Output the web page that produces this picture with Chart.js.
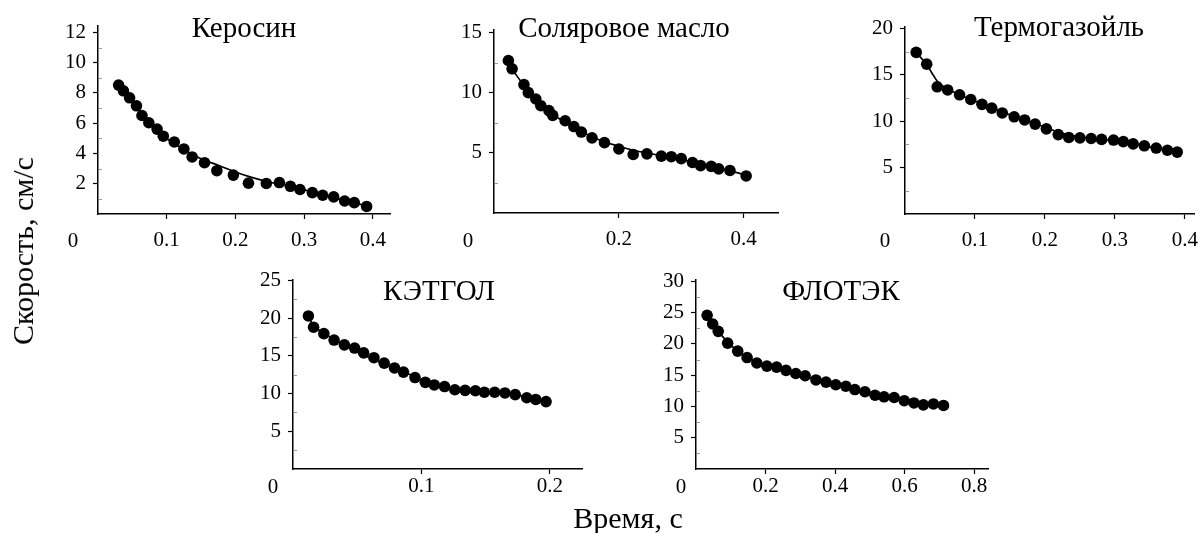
<!DOCTYPE html>
<html><head><meta charset="utf-8">
<script src="https://cdn.jsdelivr.net/npm/chart.js@4.4.1/dist/chart.umd.min.js"></script>
<style>
html,body{margin:0;padding:0;background:#fff;width:1204px;height:533px;overflow:hidden;position:relative;font-family:"Liberation Serif","DejaVu Serif",serif;color:#000;}
canvas{position:absolute;}
.lbl{position:absolute;transform:translate(-50%,-50%);white-space:nowrap;line-height:1;}
.t{font-size:29px;}
.a{font-size:30px;}
.z{font-size:21px;}
.yt{font-size:30px;transform:translate(-50%,-50%) rotate(-90deg);}
</style></head>
<body>
<canvas id="c1"></canvas><canvas id="c2"></canvas><canvas id="c3"></canvas><canvas id="c4"></canvas><canvas id="c5"></canvas>
<div class="lbl t" style="left:244px;top:27px">Керосин</div>
<div class="lbl t" style="left:624px;top:27px">Соляровое масло</div>
<div class="lbl t" style="left:1059px;top:26px">Термогазойль</div>
<div class="lbl t" style="left:439px;top:290px">КЭТГОЛ</div>
<div class="lbl t" style="left:841px;top:290px">ФЛОТЭК</div>
<div class="lbl z" style="left:73px;top:240px">0</div>
<div class="lbl z" style="left:468px;top:240px">0</div>
<div class="lbl z" style="left:885px;top:240px">0</div>
<div class="lbl z" style="left:273px;top:486px">0</div>
<div class="lbl z" style="left:681px;top:486px">0</div>
<div class="lbl yt" style="left:23px;top:251px">Скорость, см/с</div>
<div class="lbl a" style="left:628px;top:518px">Время, с</div>
<script>
// Керосин
const kerX = [0.030,0.037,0.046,0.056,0.064,0.074,0.086,0.095,0.111,0.125,0.137,0.155,0.173,0.197,0.219,0.245,0.264,0.280,0.294,0.312,0.327,0.343,0.359,0.373,0.391];
const kerY = [8.52,8.14,7.68,7.15,6.51,6.03,5.61,5.14,4.76,4.30,3.77,3.39,2.86,2.57,2.04,2.02,2.08,1.83,1.62,1.41,1.24,1.13,0.86,0.75,0.50];
const kerFitX = [0.03,0.05,0.075,0.1,0.125,0.15,0.175,0.2,0.225,0.25,0.275,0.3,0.325,0.35,0.375,0.39];
const kerFitY = [8.5,7.45,6.0,5.0,4.25,3.65,3.22,2.78,2.40,2.1,1.9,1.6,1.3,1.0,0.75,0.5];
// Соляровое масло
const solX = [0.023,0.029,0.048,0.055,0.067,0.075,0.088,0.094,0.114,0.128,0.140,0.157,0.177,0.200,0.223,0.245,0.268,0.284,0.300,0.318,0.331,0.348,0.360,0.378,0.404];
const solY = [12.68,11.99,10.68,10.01,9.48,8.92,8.52,8.12,7.67,7.19,6.73,6.25,5.85,5.32,4.87,4.92,4.73,4.68,4.52,4.20,3.94,3.88,3.67,3.54,3.08];
const solFitX = [0.023,0.03,0.05,0.075,0.1,0.125,0.15,0.175,0.2,0.225,0.25,0.275,0.3,0.325,0.35,0.375,0.4];
const solFitY = [12.7,11.9,10.5,9.1,8.0,7.2,6.5,5.95,5.55,5.2,4.95,4.7,4.45,4.15,3.85,3.55,3.2];
// Термогазойль
const terX = [0.016,0.031,0.046,0.061,0.078,0.094,0.110,0.124,0.139,0.156,0.171,0.186,0.202,0.219,0.234,0.250,0.266,0.281,0.298,0.312,0.326,0.342,0.359,0.375,0.389];
const terY = [17.42,16.15,13.71,13.37,12.85,12.34,11.82,11.41,10.89,10.48,10.14,9.69,9.18,8.56,8.25,8.21,8.14,8.04,7.97,7.80,7.56,7.35,7.11,6.87,6.67];
const terFitX = [0.016,0.031,0.04,0.05,0.075,0.1,0.125,0.15,0.175,0.2,0.225,0.25,0.275,0.3,0.325,0.35,0.375,0.389];
const terFitY = [17.4,16.1,15.0,14.0,12.95,12.15,11.4,10.7,10.05,9.35,8.7,8.3,8.05,7.9,7.6,7.2,6.9,6.67];
// КЭТГОЛ
const ketX = [0.012,0.016,0.024,0.032,0.040,0.048,0.055,0.063,0.071,0.079,0.086,0.095,0.103,0.110,0.118,0.126,0.134,0.142,0.149,0.157,0.165,0.173,0.182,0.189,0.197];
const ketY = [20.28,18.79,17.94,17.09,16.45,16.03,15.39,14.75,14.03,13.39,12.84,12.12,11.48,11.14,10.93,10.50,10.42,10.37,10.17,10.17,10.08,9.86,9.44,9.22,8.93];
const ketFitX = [0.012,0.016,0.025,0.04,0.05,0.06,0.07,0.08,0.09,0.1,0.11,0.12,0.13,0.15,0.17,0.185,0.197];
const ketFitY = [20.3,19.0,17.9,16.4,15.5,14.7,14.0,13.3,12.6,11.8,11.2,10.8,10.5,10.2,9.95,9.4,8.9];
// ФЛОТЭК
const floX = [0.032,0.048,0.064,0.091,0.120,0.147,0.175,0.204,0.232,0.259,0.287,0.314,0.345,0.374,0.402,0.431,0.457,0.486,0.515,0.541,0.570,0.599,0.627,0.654,0.683,0.712];
const floY = [24.58,23.20,22.02,20.13,18.85,17.83,16.96,16.45,16.30,15.78,15.28,14.92,14.25,13.90,13.48,13.24,12.71,12.36,11.80,11.55,11.44,10.93,10.57,10.26,10.41,10.17];
const floFitX = [0.032,0.05,0.075,0.1,0.125,0.15,0.2,0.25,0.3,0.35,0.4,0.45,0.5,0.55,0.6,0.65,0.712];
const floFitY = [24.6,23.0,21.3,19.8,18.7,17.8,16.6,15.9,15.1,14.2,13.5,12.9,12.1,11.5,10.9,10.4,10.15];

// axis settings (ranges & tick steps)
const xMax = [0.425, 0.455, 0.413, 0.225, 0.84];
const yMax = [12.45, 15.25, 20.2, 25.1, 30.3];
const xStep = [0.1, 0.2, 0.1, 0.1, 0.2];
const yStep = [2, 5, 5, 5, 5];

function pts(xs, ys){ return xs.map((x,i)=>({x:x, y:ys[i]})); }

const FONT = {family:"'Liberation Serif','Times New Roman',serif", size:21};
const YW = 60, XH = 40, PT = 12, PR = 18;

function fmt(v){ return Math.abs(v) < 1e-9 ? '' : String(Number(v.toFixed(2))); }

// faint minor ticks on the inner side of the y axis, halfway between labelled ticks
const minorTicks = {
  id: 'minorTicks',
  afterDraw(chart, args, opts){
    const y = chart.scales.y, ctx = chart.ctx, x0 = chart.chartArea.left;
    const step = opts.step;
    ctx.save();
    ctx.strokeStyle = '#9a9a9a'; ctx.lineWidth = 1;
    for (let v = step/2; v < y.max; v += step){
      const py = Math.round(y.getPixelForValue(v)) + 0.5;
      ctx.beginPath(); ctx.moveTo(x0 + 1, py); ctx.lineTo(x0 + 4, py); ctx.stroke();
    }
    ctx.restore();
  }
};

function makePanel(id, idx, xs, ys, fx, fy, geo){
  const cv = document.getElementById(id);
  const w = YW + (geo.right - geo.left) + PR;
  const h = PT + (geo.bottom - geo.top) + XH;
  cv.width = w; cv.height = h;
  cv.style.width = w + 'px'; cv.style.height = h + 'px';
  cv.style.left = (geo.left - YW) + 'px';
  cv.style.top = (geo.top - PT) + 'px';
  const tickCol = c => (Math.abs(c.tick && c.tick.value) < 1e-9 ? 'rgba(0,0,0,0)' : '#000');
  new Chart(cv, {
    type: 'scatter',
    plugins: [minorTicks],
    data: {
      datasets: [
        {data: pts(fx, fy), showLine: true, pointRadius: 0, borderColor: '#000', borderWidth: 1.7, tension: 0.4, fill: false, order: 2},
        {data: pts(xs, ys), showLine: false, pointRadius: 5.8, pointBackgroundColor: '#000', pointBorderColor: '#000', pointBorderWidth: 0, order: 1}
      ]
    },
    options: {
      responsive: false, animation: false, devicePixelRatio: 1,
      layout: {padding: {top: PT, right: PR, left: 0, bottom: 0}},
      plugins: {legend: {display: false}, tooltip: {enabled: false}, minorTicks: {step: yStep[idx]}},
      scales: {
        x: {
          type: 'linear', min: 0, max: xMax[idx],
          ticks: {stepSize: xStep[idx], includeBounds: false, color: '#000', font: FONT, padding: geo.xpad, callback: v => fmt(v), maxRotation: 0, autoSkip: false},
          grid: {drawOnChartArea: false, drawTicks: true, tickLength: 5, tickColor: tickCol, tickWidth: 1.2},
          border: {color: '#000', width: 1.5},
          afterFit: s => { s.height = XH; }
        },
        y: {
          type: 'linear', min: 0, max: yMax[idx],
          ticks: {stepSize: yStep[idx], includeBounds: false, color: '#000', font: FONT, padding: 7, callback: v => fmt(v)},
          grid: {drawOnChartArea: false, drawTicks: true, tickLength: 5, tickColor: tickCol, tickWidth: 1.2},
          border: {color: '#000', width: 1.5},
          afterFit: s => { s.width = YW; }
        }
      }
    }
  });
}

makePanel('c1', 0, kerX, kerY, kerFitX, kerFitY, {left: 98, top: 18, right: 390, bottom: 214, xpad: 9});
makePanel('c2', 1, solX, solY, solFitX, solFitY, {left: 494, top: 22, right: 778, bottom: 213, xpad: 9});
makePanel('c3', 2, terX, terY, terFitX, terFitY, {left: 905, top: 19, right: 1194, bottom: 214, xpad: 9});
makePanel('c4', 3, ketX, ketY, ketFitX, ketFitY, {left: 293, top: 272, right: 582, bottom: 469, xpad: 0});
makePanel('c5', 4, floX, floY, floFitX, floFitY, {left: 696, top: 272, right: 988, bottom: 469, xpad: 0});
</script>
</body></html>
